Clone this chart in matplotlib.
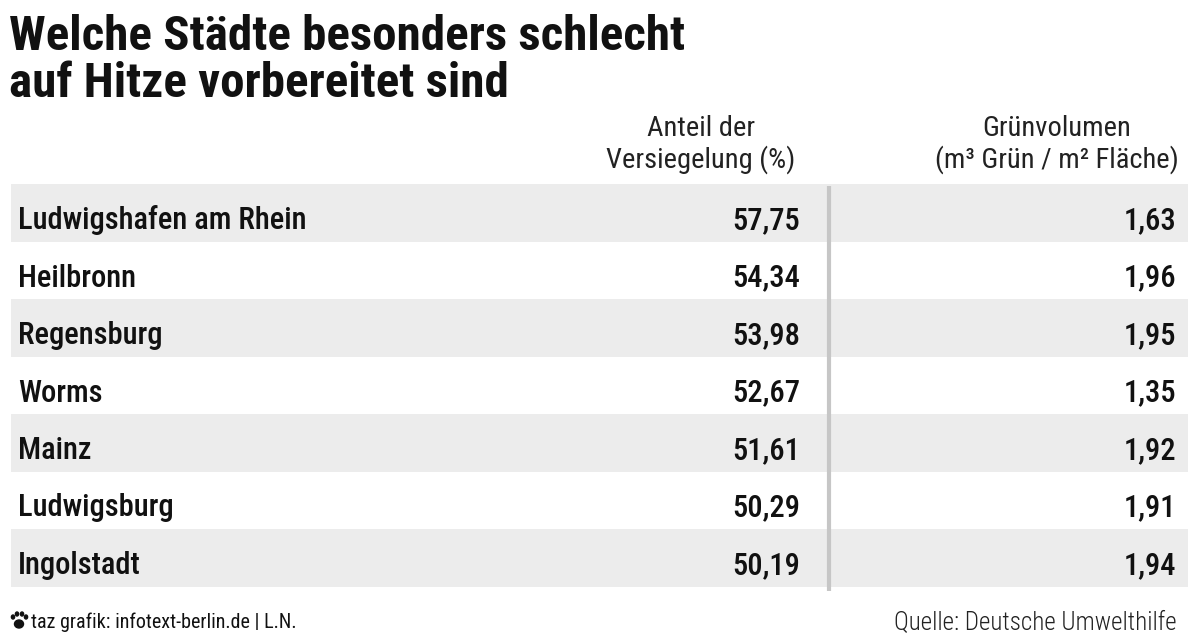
import numpy as np
import matplotlib
matplotlib.use('Agg')
from matplotlib import pyplot as plt
from matplotlib import font_manager as fm
from matplotlib.patches import Ellipse

####################################
#              Data                #
####################################
cities = ['Ludwigshafen am Rhein', 'Heilbronn', 'Regensburg', 'Worms',
          'Mainz', 'Ludwigsburg', 'Ingolstadt']
versiegelung = [57.75, 54.34, 53.98, 52.67, 51.61, 50.29, 50.19]
gruenvolumen = [1.63, 1.96, 1.95, 1.35, 1.92, 1.91, 1.94]

title = ['Welche Städte besonders schlecht', 'auf Hitze vorbereitet sind']
head1 = ['Anteil der', 'Versiegelung (%)']
head2 = ['Grünvolumen', '(m³ Grün / m² Fläche)']
credit = 'taz grafik: infotext-berlin.de | L.N.'
source = 'Quelle: Deutsche Umwelthilfe'

# pick a narrow font if one is installed
names = set(f.name for f in fm.fontManager.ttflist)
font = 'DejaVu Sans'
for cand in ['Roboto Condensed', 'Liberation Sans Narrow', 'DejaVu Sans Condensed',
             'Roboto', 'DejaVu Sans']:
    if cand in names:
        font = cand
        break
narrow = font in ('Roboto Condensed', 'Liberation Sans Narrow', 'DejaVu Sans Condensed')
k = 1.0 if narrow else 0.82

plt.rcParams['font.family'] = [font, 'DejaVu Sans']


def de(v):
    return ('%.2f' % v).replace('.', ',')


####################################
#             Figure               #
####################################
fig = plt.figure(figsize=(12, 6.44), dpi=100)
ax = fig.add_axes([0, 0, 1, 1])
ax.set_xlim(0, 1200)
ax.set_ylim(644, 0)
ax.axis('off')

for line, yb in zip(title, [50, 97]):
    ax.text(9, yb, line, fontsize=35.3 * k, fontweight='bold', ha='left',
            va='baseline', color='#111111')

for j, yb in enumerate([136, 168]):
    ax.text(701, yb, head1[j], fontsize=20.5 * k, ha='center', va='baseline',
            color='#222222')
    ax.text(1057, yb, head2[j], fontsize=20.5 * k, ha='center', va='baseline',
            color='#222222')

top = 184
rh = 57.5
n = len(cities)
for i in range(n):
    y0 = top + i * rh
    if i % 2 == 0:
        ax.axhspan(y0, y0 + rh, xmin=11 / 1200, xmax=1188 / 1200,
                   color='#ececec', lw=0, zorder=0)
    yb = y0 + 45
    ax.text(18, yb, cities[i], fontsize=22 * k, fontweight='medium',
            ha='left', va='baseline', color='#111111')
    ax.text(800, yb, de(versiegelung[i]), fontsize=22 * k, fontweight='medium',
            ha='right', va='baseline', color='#111111')
    ax.text(1176, yb, de(gruenvolumen[i]), fontsize=22 * k, fontweight='medium',
            ha='right', va='baseline', color='#111111')

ax.plot([829, 829], [186, top + n * rh + 4], color='#c6c6c6', lw=3, zorder=1,
        solid_capstyle='butt')

# small paw logo
ax.add_patch(Ellipse((19, 624), 9, 8, color='#111111'))
for dx, dy in [(-6, 617), (-2, 614), (3, 614), (7, 617)]:
    ax.add_patch(Ellipse((19 + dx, dy), 3.2, 4, color='#111111'))

ax.text(31, 628, credit, fontsize=14.5 * k, ha='left', va='baseline',
        color='#111111')
ax.text(1177, 630, source, fontsize=18 * k, fontweight='light', ha='right',
        va='baseline', color='#222222')

plt.savefig('out.png', dpi=100)
